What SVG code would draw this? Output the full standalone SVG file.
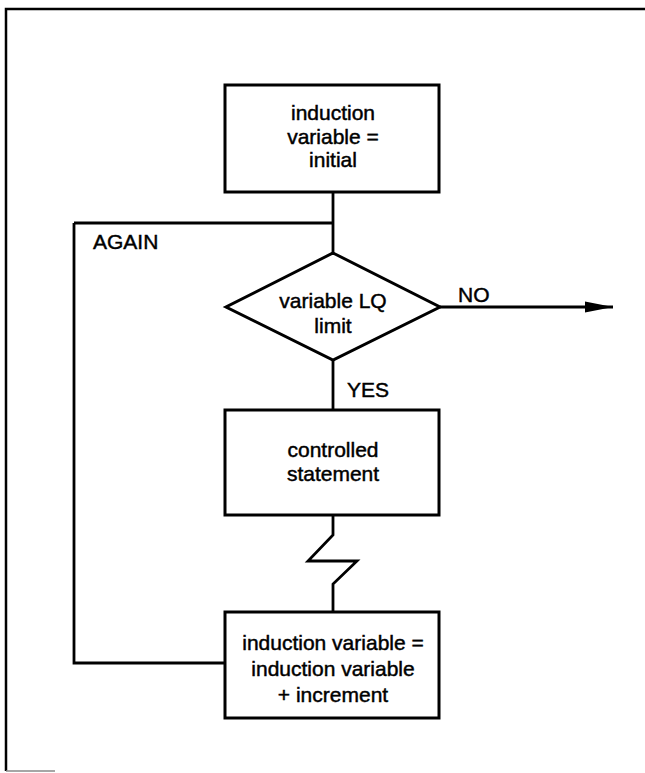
<svg xmlns="http://www.w3.org/2000/svg" width="645" height="773" viewBox="0 0 645 773">
<style>
.box{fill:#fff;stroke:#000;stroke-width:3}
.ln{fill:none;stroke:#000;stroke-width:2.8;stroke-linejoin:miter}
text{font-family:"Liberation Sans",Arial,sans-serif;font-size:21px;fill:#000;stroke:#000;stroke-width:0.45}
.c{text-anchor:middle}
</style>
<defs>
<marker id="arr" markerWidth="30" markerHeight="14" refX="28" refY="7" orient="auto" markerUnits="userSpaceOnUse">
<path d="M0,1.5 L28,7 L0,12.5 Z" fill="#000"/>
</marker>
</defs>
<rect width="645" height="773" fill="#fff"/>
<g id="frame">
<path d="M645,9 L6,9 L6,771" fill="none" stroke="#000" stroke-width="2.5"/>
<path d="M6,771 L55,771" fill="none" stroke="#888" stroke-width="1.5"/>
</g>
<g id="connectors">
<path class="ln" d="M333,192 L333,253"/>
<path class="ln" d="M74,223 L333,223"/>
<path class="ln" d="M225,663 L74,663 L74,223"/>
<path class="ln" d="M440,307 L613,307" marker-end="url(#arr)"/>
<path class="ln" d="M333,360 L333,410"/>
<path class="ln" d="M333,515 L333,535 L308,561 L357,561 L333,584 L333,612"/>
<text x="93" y="249">AGAIN</text>
<text x="458" y="302">NO</text>
<text x="347" y="397">YES</text>
</g>
<g id="init">
<rect class="box" x="225" y="85" width="214" height="107"/>
<text class="c" x="333" y="120">induction</text>
<text class="c" x="333" y="144">variable =</text>
<text class="c" x="333" y="167">initial</text>
</g>
<g id="test">
<polygon class="box" points="333,253 440,307 333,360 226,307"/>
<text class="c" x="333" y="308">variable  LQ</text>
<text class="c" x="333" y="333">limit</text>
</g>
<g id="body">
<rect class="box" x="225" y="410" width="214" height="105"/>
<text class="c" x="333" y="457">controlled</text>
<text class="c" x="333" y="481">statement</text>
</g>
<g id="incr">
<rect class="box" x="225" y="612" width="214" height="106"/>
<text class="c" x="333" y="650">induction variable =</text>
<text class="c" x="333" y="676">induction variable</text>
<text class="c" x="333" y="702">+ increment</text>
</g>
</svg>
